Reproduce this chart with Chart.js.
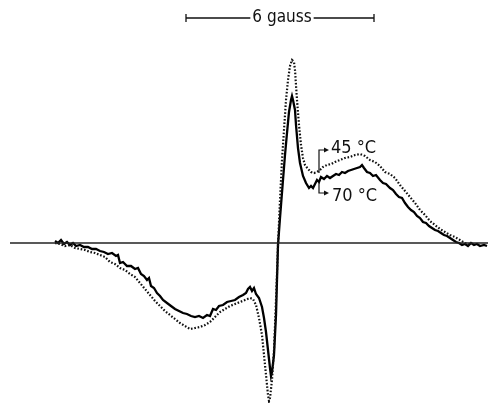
<!DOCTYPE html>
<html>
<head>
<meta charset="utf-8">
<script src="https://cdn.jsdelivr.net/npm/chart.js@4.4.1/dist/chart.umd.min.js"></script>
<style>
html,body{margin:0;padding:0;background:#fff;}
canvas{display:block;}
</style>
</head>
<body>
<canvas id="c" width="488" height="403"></canvas>
<script>
// Field position (arbitrary units; 188 units = 6 gauss) and ESR derivative amplitude (arb. units)
const field70 = [55,58,61,64,67,70,73,76,80,84,88,92,96,100,104,108,112,116,118,120,123,127,131,135,138,141,144,147,149,151,154,157,160,163,167,171,175,179,183,187,191,195,199,203,207,210,213,216,219,223,227,231,235,239,243,246,248,250,252,254,256,259,262,264,266,268,270,271,272,274,276,277,278,280,283,285,287,289,291,292,293,295,296,298,300,303,306,309,311,313,315,317,319,321,324,327,330,333,336,339,342,345,348,351,354,357,360,362,364,367,370,373,376,380,383,386,390,393,396,399,402,405,408,411,414,417,420,423,426,429,432,435,438,441,444,447,450,453,456,459,462,465,468,471,474,477,480,484,487];
const amp70 = [2,0,3,-1,1,-2,0,-3,-2,-4,-4,-6,-6,-8,-9,-11,-10,-13,-12,-20,-19,-23,-23,-26,-25,-31,-33,-37,-35,-43,-45,-50,-53,-57,-60,-63,-66,-68,-70,-71,-73,-74,-73,-75,-72,-73,-66,-67,-63,-62,-59,-58,-57,-54,-52,-50,-46,-44,-48,-45,-51,-55,-64,-75,-89,-107,-125,-133,-129,-112,-72,-37,-2,25,63,88,110,131,143,147,143,133,118,95,80,67,60,55,57,55,59,63,61,66,64,67,65,67,69,68,71,70,72,73,74,75,76,78,75,71,70,67,68,63,60,59,55,53,49,46,45,40,36,33,31,27,25,21,20,17,15,13,12,10,8,7,5,3,1,0,-2,-1,-3,0,-2,-1,-3,-2,-3];

const field45 = [55,60,65,70,75,80,85,90,95,100,105,110,115,120,125,130,135,140,145,150,155,160,165,170,175,180,185,190,195,200,205,210,215,220,225,230,235,240,245,250,253,256,259,262,264,266,268,269,270,272,274,276,278,280,282,284,286,288,290,292,294,295,297,299,301,303,305,308,311,314,317,320,323,327,331,335,340,345,350,355,360,365,370,375,380,385,390,395,400,405,410,415,420,425,430,435,440,445,450,455,460,465,470];
const amp45 = [0,-1,-3,-2,-5,-6,-7,-9,-10,-12,-14,-19,-21,-25,-27,-31,-34,-40,-46,-52,-58,-63,-68,-72,-76,-80,-83,-86,-85,-84,-82,-79,-74,-69,-66,-63,-61,-59,-57,-55,-56,-62,-75,-92,-112,-132,-152,-158,-155,-137,-107,-57,-2,43,83,113,143,163,177,183,181,173,143,118,98,85,78,74,71,70,71,73,76,78,79,81,83,85,86,88,89,87,83,81,77,71,69,65,58,52,46,40,33,28,22,18,14,11,8,6,3,0,-2];

const baselineField = [10, 488];
const baselineAmp = [0, 0];

const scaleBar = { from: 186, to: 374, label: '6 gauss' };
const seriesLabels = ['45 °C', '70 °C'];

const FONT = "'Liberation Sans Narrow','DejaVu Sans Condensed','Liberation Sans',sans-serif";

const toPts = (xs, ys) => xs.map((x, i) => ({x: x, y: ys[i]}));

const annot = {
  id: 'annot',
  afterDatasetsDraw(chart) {
    const {ctx, scales: {x, y}} = chart;
    ctx.save();
    ctx.strokeStyle = '#111';
    ctx.fillStyle = '#111';
    // scale bar
    const yb = y.getPixelForValue(225);
    const x1 = x.getPixelForValue(scaleBar.from), x2 = x.getPixelForValue(scaleBar.to);
    ctx.font = '17px ' + FONT;
    const tw = ctx.measureText(scaleBar.label).width;
    const xm = (x1 + x2) / 2 + 2;
    ctx.lineWidth = 1.3;
    ctx.beginPath();
    ctx.moveTo(x1, yb); ctx.lineTo(xm - tw/2 - 2, yb);
    ctx.moveTo(xm + tw/2 + 2, yb); ctx.lineTo(x2, yb);
    ctx.moveTo(x1, yb - 4); ctx.lineTo(x1, yb + 4);
    ctx.moveTo(x2, yb - 4); ctx.lineTo(x2, yb + 4);
    ctx.stroke();
    ctx.textAlign = 'center'; ctx.textBaseline = 'middle';
    ctx.fillText(scaleBar.label, xm, yb);

    // temperature brackets
    const bx = x.getPixelForValue(319), tx = x.getPixelForValue(327);
    ctx.lineWidth = 1.2;
    const t45 = y.getPixelForValue(93), b45 = y.getPixelForValue(70);
    const t70 = y.getPixelForValue(61), b70 = y.getPixelForValue(50);
    ctx.beginPath();
    ctx.moveTo(bx, b45); ctx.lineTo(bx, t45); ctx.lineTo(tx, t45);
    ctx.moveTo(bx, t70); ctx.lineTo(bx, b70); ctx.lineTo(tx, b70);
    ctx.stroke();
    ctx.beginPath();
    ctx.moveTo(tx + 2, t45); ctx.lineTo(tx - 3, t45 - 2.5); ctx.lineTo(tx - 3, t45 + 2.5); ctx.closePath();
    ctx.moveTo(tx + 2, b70); ctx.lineTo(tx - 3, b70 - 2.5); ctx.lineTo(tx - 3, b70 + 2.5); ctx.closePath();
    ctx.fill();
    ctx.font = '18px ' + FONT;
    ctx.textAlign = 'left';
    ctx.fillText(seriesLabels[0], x.getPixelForValue(331), y.getPixelForValue(95));
    ctx.fillText(seriesLabels[1], x.getPixelForValue(332), y.getPixelForValue(47));
    ctx.restore();
  }
};

new Chart(document.getElementById('c'), {
  type: 'line',
  data: {
    datasets: [
      { label: 'baseline', data: toPts(baselineField, baselineAmp), borderColor: '#222', borderWidth: 1.6, pointRadius: 0 },
      { label: seriesLabels[0], data: toPts(field45, amp45), borderColor: '#111', borderWidth: 2.2, borderDash: [1.6, 1.8], pointRadius: 0, tension: 0 },
      { label: seriesLabels[1], data: toPts(field70, amp70), borderColor: '#000', borderWidth: 2.3, pointRadius: 0, tension: 0 }
    ]
  },
  options: {
    responsive: false,
    animation: false,
    layout: { padding: 0 },
    plugins: { legend: { display: false }, tooltip: { enabled: false } },
    scales: {
      x: { type: 'linear', min: 0, max: 488, display: false },
      y: { type: 'linear', min: -160, max: 243, display: false }
    }
  },
  plugins: [annot]
});
</script>
</body>
</html>
